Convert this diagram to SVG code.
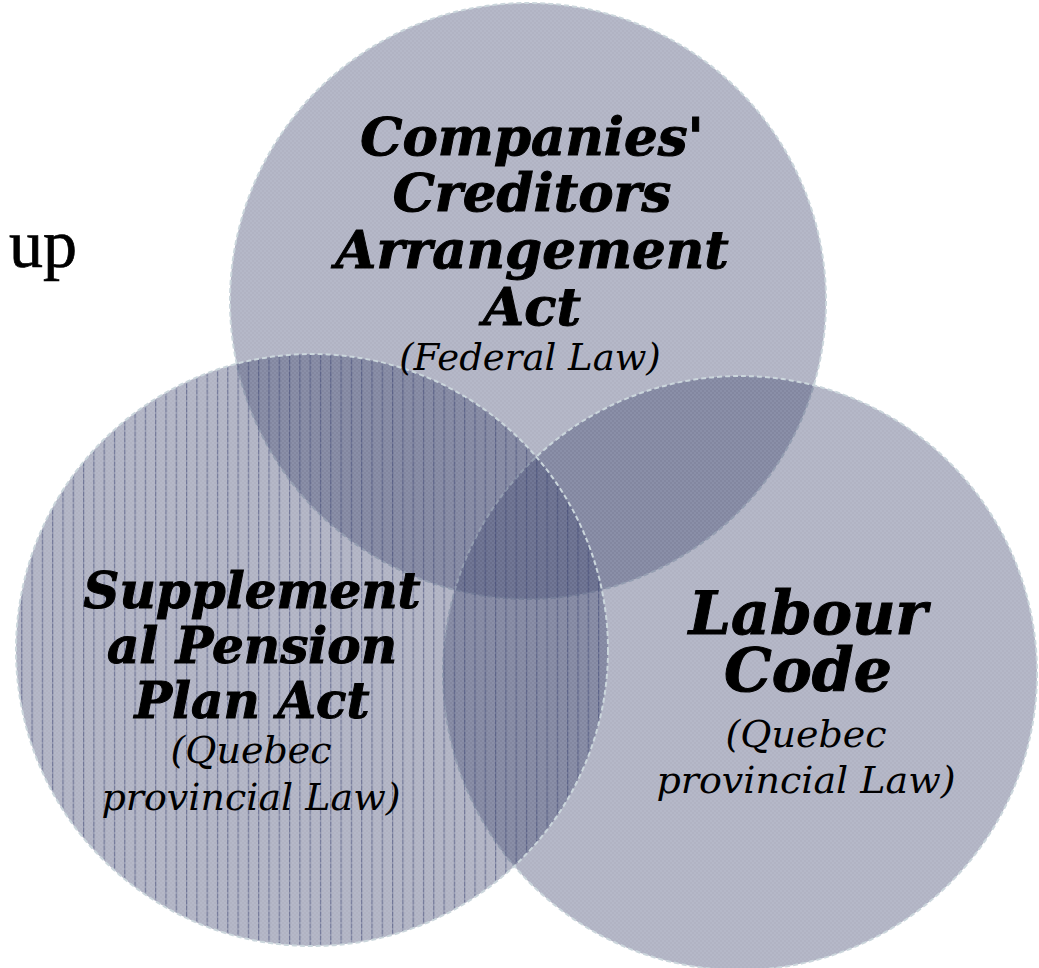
<svg xmlns="http://www.w3.org/2000/svg" width="1039" height="968" viewBox="0 0 1039 968">
<defs>
<pattern id="chk" patternUnits="userSpaceOnUse" width="4" height="4">
<rect width="4" height="4" fill="#4f567c"/>
<rect width="2" height="2" fill="#444b70"/>
<rect x="2" y="2" width="2" height="2" fill="#444b70"/>
</pattern>
<pattern id="stripes" patternUnits="userSpaceOnUse" x="83" y="0" width="10.3" height="6">
<rect x="0" y="0" width="1.2" height="4" fill="#3a4270" fill-opacity="0.55"/>
<rect x="0" y="4" width="1.2" height="2" fill="#3a4270" fill-opacity="0.3"/>
</pattern>
</defs>
<style>
.c{fill:url(#chk);fill-opacity:0.42;stroke:#cbd6dc;stroke-width:2;stroke-dasharray:5 3}
.s{fill:url(#stripes);stroke:none}
.h{font-family:"DejaVu Serif",serif;font-weight:bold;font-style:italic;fill:#000;stroke:#000;stroke-width:1;text-anchor:middle}
.t{font-family:"DejaVu Serif",serif;font-style:italic;fill:#000;text-anchor:middle}
</style>
<text x="9" y="267" font-family="Liberation Serif, serif" font-size="68" fill="#000" stroke="#000" stroke-width="0.7">up</text>
<g id="node-ccaa">
<circle class="c" cx="528" cy="301" r="298"/>
</g>
<g id="node-labour">
<circle class="c" cx="740" cy="673" r="297"/>
</g>
<g id="node-spp">
<circle class="c" cx="312" cy="650" r="296"/>
<circle class="s" cx="312" cy="650" r="295"/>
</g>
<g id="connectors"></g>
<g id="labels">
<text class="h" font-size="53" x="532" y="155">Companies'<tspan x="532" dy="56">Creditors</tspan><tspan x="532" dy="57">Arrangement</tspan><tspan x="532" dy="57">Act</tspan></text>
<text class="t" x="530" y="370" font-size="37">(Federal Law)</text>
<text class="h" font-size="60" x="808" y="634">Labour<tspan x="808" dy="57">Code</tspan></text>
<text class="t" font-size="38" x="806" y="747">(Quebec<tspan x="806" dy="46">provincial Law)</tspan></text>
<text class="h" font-size="50" x="252" y="608">Supplement<tspan x="252" dy="55">al Pension</tspan><tspan x="252" dy="55">Plan Act</tspan></text>
<text class="t" font-size="38" x="251" y="763">(Quebec<tspan x="251" dy="47">provincial Law)</tspan></text>
</g>
</svg>
